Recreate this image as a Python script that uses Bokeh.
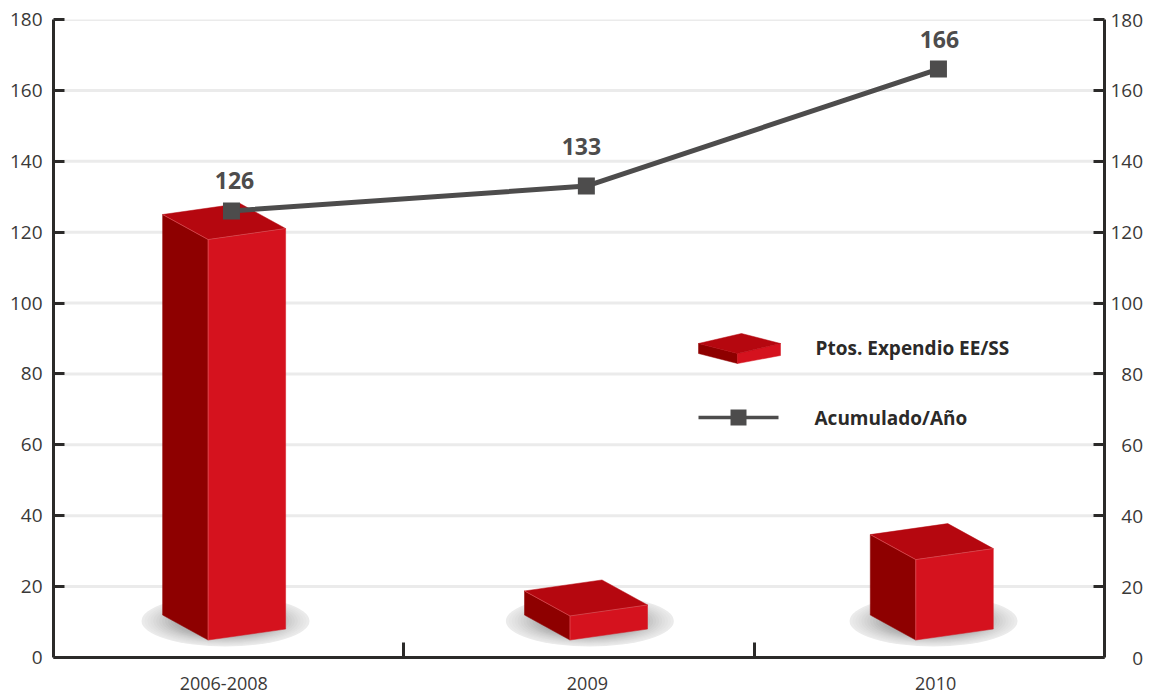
from bokeh.plotting import figure
from bokeh.embed import file_html
from bokeh.resources import INLINE
from bokeh.models import Range1d, LinearAxis, FixedTicker
from bokeh.core.properties import value

# Chart data
categories = ["2006-2008", "2009", "2010"]
bar_heights = [113, 6.8, 22.7]
accumulated = [126, 133, 166]
y_ticks = [0, 20, 40, 60, 80, 100, 120, 140, 160, 180]
legend_labels = ["Ptos. Expendio EE/SS", "Acumulado/Año"]

# Horizontal placement inside the three category bands
bar_x = [0.487, 1.520, 2.507]
shadow_x = [0.491, 1.531, 2.512]
line_x = [0.508, 1.521, 2.526]
label_x = [0.486, 1.524, 2.518]
band_edges = [1, 2]

# Frame geometry in pixels
W, H = 1151, 694
LEFT, RIGHT, TOP, BOTTOM = 53, 1104, 19, 657
PX_X = 3 / (RIGHT - LEFT)
PX_Y = 180 / (BOTTOM - TOP)

FONT = "Open Sans"
DARK = "#2b2a29"
TICK_TEXT = "#3a3938"
LINE = "#4d4c4c"
FRONT, SIDE, ROOF, EDGE = "#d5121e", "#8e0000", "#b5070f", "#e8666c"

p = figure(width=W, height=H, x_range=Range1d(0, 3), y_range=Range1d(0, 180),
           output_backend="svg", toolbar_location=None, x_axis_location=None,
           y_axis_location=None, min_border_left=LEFT, min_border_right=W - RIGHT,
           min_border_top=TOP, min_border_bottom=H - BOTTOM,
           outline_line_color=None, background_fill_color="white")
p.xgrid.visible = False
p.ygrid.visible = False

# Horizontal rules at every labelled value above zero
for t in y_ticks[1:]:
    p.line([0, 3], [t, t], line_color="#ebebeb", line_width=3)


def box(cx, height, base=10.0, half_w=61.5, half_d=(16, 18), skew=7):
    """Draw one pseudo-3D column standing on a base level, in data units."""
    dx_side, dx_depth = half_w * PX_X, half_d[0] * PX_X
    up_side, up_depth = skew * PX_Y, half_d[1] * PX_Y
    left = (cx - dx_side, base + up_side)
    right = (cx + dx_side, base - up_side)
    front = (cx - dx_depth, base - up_depth)
    back = (cx + dx_depth, base + up_depth)

    def up(pt):
        return (pt[0], pt[1] + height)

    def face(points, color):
        p.patch([q[0] for q in points], [q[1] for q in points], fill_color=color, line_color=color, line_width=0.5)

    face([left, front, up(front), up(left)], SIDE)
    face([front, right, up(right), up(front)], FRONT)
    face([up(left), up(back), up(right), up(front)], ROOF)
    for a, b in ((up(left), up(front)), (up(front), up(right)), (front, up(front))):
        p.line([a[0], b[0]], [a[1], b[1]], line_color=EDGE, line_width=0.8, line_alpha=0.7)


# Soft floor shadows under the columns, then the columns
shades = ["#ebebeb", "#e7e7e7", "#e3e3e3", "#dfdfdf", "#dadada", "#d5d5d5", "#d0d0d0", "#cacaca",
          "#c4c4c4", "#bebebe", "#b8b8b8", "#b2b2b2"]
for sx, cx, h in zip(shadow_x, bar_x, bar_heights):
    for i, shade in enumerate(shades):
        scale = 1 - i / len(shades) * 0.42
        p.ellipse(sx, 10.3, width=168 * PX_X * scale, height=51 * PX_Y * scale,
                  fill_color=shade, line_color=None)
    box(cx, h)

# Accumulated line with square markers and value labels
p.line(line_x, accumulated, line_color=LINE, line_width=5)
p.scatter(line_x, accumulated, marker="square", size=17, fill_color=LINE, line_color=None)
p.text(line_x, accumulated, text=[str(v) for v in accumulated], x_offset=[3, -5, 1], y_offset=[-30, -40, -30],
       text_align="center", text_baseline="alphabetic", text_color=LINE, text_font=value(FONT),
       text_font_style="bold", text_font_size="23px")


# Legend drawn inside the plot area
def lx(px):
    return (px - LEFT) * PX_X


def ly(py):
    return (BOTTOM - py) * PX_Y


key = {"a": (698, 343), "b": (741, 333), "c": (780, 343), "d": (737, 353),
       "e": (698, 353), "f": (737, 363), "g": (780, 355)}
for names, color in (("adfe", SIDE), ("dcgf", FRONT), ("abcd", ROOF)):
    p.patch([lx(key[n][0]) for n in names], [ly(key[n][1]) for n in names], fill_color=color, line_color=color, line_width=0.5)
p.line([lx(698), lx(778)], [ly(417), ly(417)], line_color=LINE, line_width=3.5)
p.scatter([lx(738)], [ly(417)], marker="square", size=16, fill_color=LINE, line_color=None)
p.text([lx(815), lx(814)], [ly(347), ly(417)], text=legend_labels, text_color=DARK, text_font=value(FONT),
       text_font_style="bold", text_font_size="19px", text_align="left", text_baseline="alphabetic")


# Axes
def style_value_axis(axis, standoff):
    axis.ticker = FixedTicker(ticks=y_ticks[1:] + [0])
    axis.axis_line_color = DARK
    axis.axis_line_width = 3
    axis.major_tick_line_color = DARK
    axis.major_tick_line_width = 3
    axis.major_tick_in = 11
    axis.major_tick_out = 0
    axis.minor_tick_line_color = None
    axis.major_label_text_font = FONT
    axis.major_label_text_font_size = "19px"
    axis.major_label_text_color = TICK_TEXT
    axis.major_label_standoff = standoff


left_axis = LinearAxis()
style_value_axis(left_axis, 11)
p.add_layout(left_axis, "left")

right_axis = LinearAxis()
style_value_axis(right_axis, 6)
# Digits stay right-aligned on this side by padding with figure spaces
right_axis.major_label_overrides = {t: str(t).rjust(3, "\u2007") for t in y_ticks}
p.add_layout(right_axis, "right")

# Category names sit on major ticks of no length; band edges are the minor ticks
name_axis = LinearAxis(ticker=FixedTicker(ticks=label_x, minor_ticks=band_edges),
                       major_label_overrides={x: c for x, c in zip(label_x, categories)})
name_axis.axis_line_color = DARK
name_axis.axis_line_width = 3
name_axis.major_tick_line_color = None
name_axis.minor_tick_line_color = DARK
name_axis.minor_tick_line_width = 3
name_axis.minor_tick_in = 15
name_axis.minor_tick_out = 0
name_axis.major_label_text_font = FONT
name_axis.major_label_text_font_size = "18px"
name_axis.major_label_text_color = TICK_TEXT
name_axis.major_label_standoff = 13
p.add_layout(name_axis, "below")

open("out.html", "w").write(file_html(p, INLINE))
